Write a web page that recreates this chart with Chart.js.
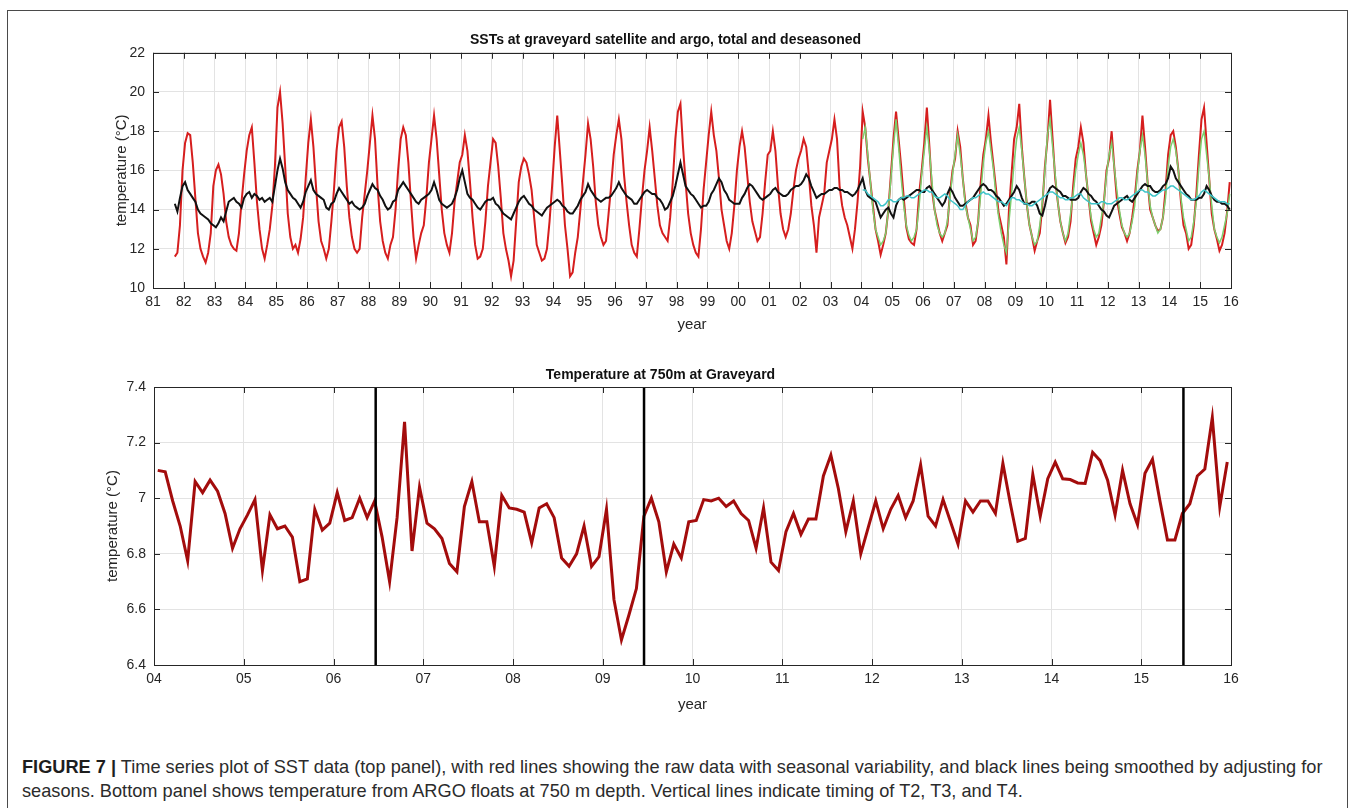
<!DOCTYPE html>
<html>
<head>
<meta charset="utf-8">
<script src="https://cdn.jsdelivr.net/npm/chart.js@4.4.1/dist/chart.umd.min.js"></script>
<style>
  body { margin: 0; background: #fff; font-family: "Liberation Sans", Arial, sans-serif; }
  #page { position: relative; width: 1355px; height: 808px; overflow: hidden; background: #fff; }
  #frame { position: absolute; left: 7px; top: 10px; width: 1339px; height: 830px; border: 1.5px solid #4a4a4a; }
  canvas { position: absolute; }
  #sst { left: 100px; top: 24px; }
  #argo { left: 90px; top: 350px; }
  #caption { position: absolute; left: 22px; top: 755px; font-size: 18.2px; line-height: 24px; color: #2b2b2b; white-space: nowrap; }
  #caption b { font-weight: bold; color: #1e1e1e; }
</style>
</head>
<body>
<div id="page">
  <div id="frame"></div>
  <canvas id="sst" width="1160" height="320"></canvas>
  <canvas id="argo" width="1170" height="380"></canvas>
  <div id="caption"><b>FIGURE 7 |</b> Time series plot of SST data (top panel), with red lines showing the raw data with seasonal variability, and black lines being smoothed by adjusting for<br>seasons. Bottom panel shows temperature from ARGO floats at 750 m depth. Vertical lines indicate timing of T2, T3, and T4.</div>
</div>
<script>
// satellite SST, monthly, Sep 1981 - Dec 2015 (one row per year)
const sstStart = 1981 + 8 / 12;
const sstRaw = [
  11.6, 11.8, 13.2, 16.0,
  17.4, 17.9, 17.8, 16.4, 14.6, 12.8, 12.0, 11.6, 11.3, 11.8, 12.8, 15.2,
  16.0, 16.3, 15.8, 14.8, 13.4, 12.6, 12.2, 12.0, 11.9, 12.8, 14.4, 15.8,
  17.0, 17.8, 18.2, 16.4, 14.4, 13.0, 12.0, 11.5, 12.2, 13.0, 14.2, 16.2,
  19.2, 20.0, 18.4, 16.2, 13.8, 12.6, 12.0, 12.2, 11.8, 12.5, 13.6, 15.6,
  17.4, 18.6, 17.2, 15.2, 13.4, 12.4, 12.0, 11.5, 12.0, 13.4, 15.0, 17.0,
  18.2, 18.5, 17.2, 15.2, 13.6, 12.6, 12.0, 11.8, 12.0, 13.6, 14.8, 16.0,
  17.4, 18.8, 17.6, 15.2, 13.4, 12.4, 11.8, 11.5, 12.2, 12.6, 14.0, 16.0,
  17.6, 18.2, 17.8, 16.4, 14.4, 12.6, 11.5, 12.2, 12.8, 13.2, 14.6, 16.4,
  17.6, 18.8, 17.6, 15.8, 14.0, 12.8, 12.2, 11.8, 12.8, 14.4, 15.4, 16.4,
  16.8, 17.8, 17.0, 15.4, 13.6, 12.2, 11.5, 11.6, 12.0, 13.4, 15.2, 16.4,
  17.6, 17.4, 16.2, 14.6, 12.8, 12.0, 11.4, 10.6, 11.4, 13.4, 15.4, 16.2,
  16.6, 16.4, 15.8, 15.0, 13.6, 12.2, 11.8, 11.4, 11.5, 12.0, 13.4, 15.2,
  17.2, 18.8, 17.0, 15.2, 13.2, 12.0, 10.6, 10.8, 11.8, 12.6, 14.0, 15.4,
  16.8, 18.4, 17.6, 16.2, 14.4, 13.2, 12.6, 12.2, 12.4, 13.8, 15.2, 16.8,
  17.8, 18.6, 17.6, 15.8, 14.4, 13.2, 12.2, 11.8, 11.6, 13.0, 14.6, 16.0,
  17.0, 18.2, 17.0, 15.6, 14.2, 13.2, 12.8, 12.6, 12.4, 13.6, 15.4, 17.6,
  19.0, 19.4, 17.2, 15.4, 13.8, 12.8, 12.2, 11.8, 11.6, 13.0, 15.0, 16.4,
  17.8, 19.0, 17.8, 17.0, 15.6, 14.0, 13.2, 12.4, 12.0, 12.8, 14.2, 16.0,
  17.2, 18.0, 17.2, 15.8, 14.4, 13.4, 12.9, 12.4, 12.6, 13.8, 15.4, 16.8,
  17.0, 18.0, 17.0, 15.2, 13.8, 13.0, 12.6, 13.0, 13.8, 15.0, 16.0, 16.6,
  17.0, 17.6, 17.2, 15.8, 14.2, 13.2, 11.8, 13.6, 14.2, 14.8, 16.4, 17.0,
  17.6, 18.6, 17.6, 15.2, 14.2, 13.6, 13.2, 12.6, 12.0, 13.0, 14.4, 16.2,
  19.0, 18.2, 16.6, 15.4, 14.2, 13.0, 12.4, 11.7, 12.2, 12.8, 14.0, 15.8,
  17.6, 19.0, 17.6, 16.2, 14.6, 13.1, 12.5, 12.3, 12.2, 13.0, 14.8, 16.0,
  17.4, 19.2, 17.2, 15.0, 14.0, 13.4, 12.8, 12.4, 12.8, 13.2, 14.8, 16.0,
  16.6, 18.0, 17.2, 15.6, 14.4, 13.6, 13.2, 12.2, 12.4, 13.4, 15.4, 16.8,
  17.6, 18.8, 17.4, 16.2, 15.0, 13.8, 13.2, 12.6, 11.2, 14.0, 15.8, 17.6,
  18.2, 19.4, 17.2, 15.6, 14.2, 13.2, 12.6, 11.9, 12.4, 12.8, 14.2, 16.2,
  17.6, 19.6, 17.6, 15.6, 14.4, 13.4, 12.8, 12.3, 12.6, 13.4, 15.2, 16.6,
  17.2, 18.2, 17.4, 15.8, 14.6, 13.4, 12.8, 12.2, 12.6, 13.2, 14.4, 16.0,
  16.6, 18.0, 16.2, 14.6, 13.8, 13.1, 12.8, 12.4, 12.8, 13.6, 14.6, 16.0,
  17.0, 18.8, 17.2, 15.4, 14.0, 13.6, 13.2, 12.9, 13.0, 13.6, 15.0, 16.8,
  17.8, 18.0, 17.2, 16.0, 14.4, 13.2, 12.8, 12.0, 12.2, 13.2, 14.8, 16.8,
  18.6, 19.2, 17.4, 15.6, 13.8, 13.0, 12.5, 11.9, 12.2, 12.8, 13.9, 15.4
];
const sstDeseason = [
  14.3, 13.9, 14.6, 15.2,
  15.4, 15.0, 14.8, 14.6, 14.4, 14.0, 13.8, 13.7, 13.6, 13.5, 13.3, 13.2,
  13.1, 13.3, 13.6, 13.4, 13.9, 14.4, 14.5, 14.6, 14.4, 14.3, 14.1, 14.6,
  14.8, 14.9, 14.6, 14.8, 14.7, 14.5, 14.6, 14.4, 14.5, 14.6, 14.4, 15.2,
  16.0, 16.6, 16.1, 15.4, 15.0, 14.8, 14.6, 14.5, 14.3, 14.1, 14.4, 14.9,
  15.2, 15.5, 15.0, 14.8, 14.7, 14.6, 14.5, 14.1, 14.0, 14.3, 14.4, 14.8,
  15.1, 14.9, 14.7, 14.5, 14.3, 14.4, 14.2, 14.1, 14.0, 14.1, 14.3, 14.7,
  15.0, 15.3, 15.1, 15.0, 14.7, 14.5, 14.2, 14.0, 14.1, 14.4, 14.5, 15.0,
  15.2, 15.4, 15.2, 15.0, 14.8, 14.6, 14.4, 14.3, 14.5, 14.6, 14.7, 14.8,
  15.0, 15.4, 15.0, 14.5, 14.3, 14.2, 14.1, 14.2, 14.3, 14.6, 15.0, 15.6,
  16.0, 15.4, 14.8, 14.6, 14.5, 14.3, 14.1, 14.0, 14.2, 14.4, 14.5, 14.5,
  14.6, 14.3, 14.2, 14.0, 13.8, 13.7, 13.6, 13.5, 13.8, 14.1, 14.4, 14.6,
  14.7, 14.5, 14.3, 14.2, 14.0, 13.9, 13.8, 13.7, 13.9, 14.1, 14.2, 14.3,
  14.4, 14.5, 14.4, 14.2, 14.1, 13.9, 13.8, 13.8, 14.0, 14.2, 14.5, 14.7,
  14.9, 15.3, 15.0, 14.8, 14.6, 14.5, 14.4, 14.5, 14.6, 14.6, 14.7, 14.9,
  15.1, 15.4, 15.1, 14.9, 14.7, 14.6, 14.5, 14.3, 14.3, 14.5, 14.7, 14.9,
  15.0, 14.9, 14.8, 14.8, 14.6, 14.5, 14.3, 14.0, 14.1, 14.4, 14.7, 15.2,
  15.8, 16.4, 15.8, 15.2, 15.0, 14.8, 14.7, 14.5, 14.3, 14.1, 14.2, 14.2,
  14.4, 14.8, 15.0, 15.3, 15.6, 15.4, 15.0, 14.8, 14.5, 14.4, 14.3, 14.3,
  14.3, 14.6, 14.8, 15.1, 15.3, 15.2, 15.0, 14.8, 14.6, 14.5, 14.6, 14.7,
  14.8, 15.0, 15.1, 14.9, 14.8, 14.7, 14.7, 14.8, 15.0, 15.1, 15.2, 15.2,
  15.3, 15.5, 15.8, 15.6, 15.2, 14.9, 14.6, 14.7, 14.8, 14.8, 14.9, 15.0,
  15.0, 15.1, 15.1, 15.0, 15.0, 14.9, 14.9, 14.8, 14.7, 14.8, 15.0, 15.3,
  15.6, 15.0, 14.7, 14.6, 14.5, 14.4, 14.0, 13.6, 13.8, 14.0, 14.1, 13.8,
  13.6, 14.2, 14.5, 14.6, 14.5, 14.6, 14.7, 14.8, 14.9, 15.0, 15.0, 14.9,
  14.9, 15.1, 15.2, 15.0, 14.8, 14.6, 14.4, 14.2, 14.4, 14.8, 15.1, 14.9,
  14.6, 14.4, 14.2, 14.2, 14.3, 14.4, 14.5, 14.6, 14.8, 15.0, 15.2, 15.3,
  15.2, 15.0, 15.0, 14.9, 14.7, 14.6, 14.4, 14.2, 14.3, 14.5, 14.7, 14.9,
  15.2, 15.0, 14.6, 14.3, 14.3, 14.3, 14.4, 14.4, 14.2, 13.8, 13.7, 14.2,
  14.8, 15.1, 15.2, 15.1, 15.0, 14.9, 14.7, 14.7, 14.6, 14.5, 14.5, 14.5,
  14.6, 14.9, 15.1, 15.0, 14.8, 14.7, 14.5, 14.4, 14.2, 14.0, 13.9, 13.7,
  13.6, 13.9, 14.2, 14.3, 14.4, 14.5, 14.6, 14.7, 14.5, 14.4, 14.6, 14.8,
  15.0, 15.2, 15.3, 15.2, 15.2, 15.0, 14.9, 14.9, 15.0, 15.2, 15.3, 15.6,
  16.2, 16.0, 15.6, 15.4, 15.2, 15.0, 14.8, 14.7, 14.5, 14.5, 14.5, 14.6,
  14.6, 14.8, 15.2, 15.0, 14.7, 14.5, 14.4, 14.4, 14.3, 14.3, 14.2, 14.0
];

// argo near-surface, monthly, Jan 2004 - Dec 2015
const argoStart = 2004;
const argoTotal = [
  17.6, 18.2, 16.8, 15.4, 14.0, 13.0, 12.6, 12.2, 12.4, 12.8, 14.0, 15.6,
  17.2, 18.6, 17.2, 15.6, 14.2, 13.2, 12.7, 12.4, 12.6, 13.0, 14.2, 15.8,
  17.0, 18.2, 17.0, 15.4, 14.0, 13.2, 12.8, 12.6, 12.8, 13.4, 14.6, 15.8,
  16.8, 17.8, 16.8, 15.6, 14.2, 13.6, 13.0, 12.4, 12.6, 13.4, 14.8, 16.4,
  17.4, 18.0, 17.0, 16.0, 14.6, 13.6, 12.8, 12.2, 11.8, 13.4, 14.8, 16.4,
  17.6, 18.2, 17.0, 15.6, 14.2, 13.2, 12.6, 12.2, 12.4, 13.2, 14.4, 16.0,
  17.8, 18.6, 17.2, 15.8, 14.4, 13.4, 12.8, 12.4, 12.8, 13.8, 14.8, 16.0,
  16.8, 17.4, 16.8, 15.8, 14.6, 13.6, 13.0, 12.6, 12.8, 13.6, 14.4, 15.8,
  16.8, 17.4, 16.2, 15.0, 14.0, 13.2, 12.8, 12.6, 12.8, 13.4, 14.2, 15.8,
  17.0, 17.8, 16.8, 15.4, 14.2, 13.6, 13.2, 12.8, 13.0, 13.6, 14.6, 16.2,
  17.2, 17.6, 17.0, 16.0, 14.6, 13.6, 13.0, 12.4, 12.6, 13.4, 14.4, 16.2,
  17.6, 18.0, 16.8, 15.6, 14.2, 13.0, 12.6, 12.3, 12.6, 13.2, 13.8, 14.8
];
const argoDeseason = [
  15.0, 15.0, 14.8, 14.7, 14.6, 14.5, 14.4, 14.2, 14.2, 14.3, 14.5, 14.5,
  14.4, 14.4, 14.5, 14.6, 14.6, 14.7, 14.7, 14.6, 14.6, 14.7, 14.8, 14.9,
  15.0, 15.0, 14.9, 14.9, 14.7, 14.6, 14.6, 14.7, 14.8, 14.7, 14.5, 14.4,
  14.3, 14.2, 14.0, 14.0, 14.2, 14.4, 14.5, 14.6, 14.6, 14.7, 14.8, 14.9,
  14.8, 14.8, 14.7, 14.6, 14.5, 14.4, 14.4, 14.3, 14.2, 14.4, 14.6, 14.6,
  14.5, 14.5, 14.4, 14.3, 14.3, 14.2, 14.2, 14.3, 14.4, 14.5, 14.6, 14.7,
  14.8, 14.9, 14.9, 14.8, 14.7, 14.6, 14.6, 14.5, 14.5, 14.6, 14.6, 14.7,
  14.8, 14.8, 14.6, 14.5, 14.4, 14.3, 14.3, 14.3, 14.3, 14.4, 14.4, 14.3,
  14.3, 14.3, 14.4, 14.5, 14.6, 14.6, 14.5, 14.5, 14.6, 14.7, 14.8, 14.9,
  15.0, 15.0, 14.9, 14.9, 14.8, 14.7, 14.7, 14.8, 14.9, 15.0, 15.0, 15.1,
  15.2, 15.2, 15.1, 15.0, 14.9, 14.8, 14.7, 14.6, 14.5, 14.5, 14.6, 14.7,
  14.9, 15.0, 14.9, 14.8, 14.7, 14.6, 14.5, 14.4, 14.4, 14.4, 14.3, 14.3
];

// argo temperature at 750 m, monthly, Jan 2004 - Dec 2015
const t750 = [
  7.10, 7.095, 6.99, 6.90, 6.775, 7.06, 7.02, 7.065, 7.025, 6.945, 6.82, 6.89,
  6.94, 6.995, 6.74, 6.94, 6.89, 6.90, 6.86, 6.70, 6.71, 6.96, 6.885, 6.91,
  7.02, 6.92, 6.93, 7.00, 6.93, 6.99, 6.86, 6.70, 6.93, 7.275, 6.81, 7.04,
  6.91, 6.89, 6.855, 6.765, 6.735, 6.97, 7.06, 6.915, 6.915, 6.755, 7.01, 6.965,
  6.96, 6.95, 6.84, 6.965, 6.98, 6.93, 6.785, 6.755, 6.80, 6.90, 6.755, 6.79,
  6.96, 6.635, 6.49, 6.58, 6.675, 6.935, 7.00, 6.915, 6.735, 6.835, 6.785, 6.915,
  6.92, 6.995, 6.99, 7.00, 6.97, 6.99, 6.945, 6.92, 6.82, 6.965, 6.77, 6.74,
  6.88, 6.945, 6.87, 6.925, 6.925, 7.08, 7.155, 7.035, 6.88, 6.99, 6.80, 6.895,
  6.99, 6.89, 6.96, 7.01, 6.93, 6.99, 7.12, 6.935, 6.90, 6.995, 6.915, 6.835,
  6.99, 6.95, 6.99, 6.99, 6.945, 7.125, 6.98, 6.845, 6.855, 7.085, 6.935, 7.07,
  7.13, 7.07, 7.067, 7.055, 7.053, 7.165, 7.135, 7.065, 6.94, 7.10, 6.98, 6.905,
  7.09, 7.14, 6.99, 6.85, 6.85, 6.945, 6.98, 7.08, 7.105, 7.29, 6.97, 7.13
];
const eventYears = [2006.47, 2009.46, 2015.47];

const sstTicks = { min: 1981, max: 2016, yMin: 10, yMax: 22, yStep: 2 };
const argoTicks = { min: 2004, max: 2016, yMin: 6.4, yMax: 7.4, yStep: 0.2 };

const monthly = (start, values) => values.map((v, i) => ({ x: start + (i + 0.5) / 12, y: v }));
const yearLabel = v => String(Math.round(v) % 100).padStart(2, "0");

const axisInk = "#262626";
const gridInk = "#e3e3e3";

// matlab-style box with inward tick marks
const boxFrame = {
  id: "boxFrame",
  afterDatasetsDraw(chart) {
    const { ctx, chartArea: a, scales: { x, y } } = chart;
    const len = 6;
    ctx.save();
    ctx.strokeStyle = axisInk;
    ctx.lineWidth = 1;
    ctx.beginPath();
    x.ticks.forEach(t => {
      const px = Math.round(x.getPixelForValue(t.value)) + 0.5;
      ctx.moveTo(px, a.bottom); ctx.lineTo(px, a.bottom - len);
      ctx.moveTo(px, a.top); ctx.lineTo(px, a.top + len);
    });
    y.ticks.forEach(t => {
      const py = Math.round(y.getPixelForValue(t.value)) + 0.5;
      ctx.moveTo(a.left, py); ctx.lineTo(a.left + len, py);
      ctx.moveTo(a.right, py); ctx.lineTo(a.right - len, py);
    });
    ctx.stroke();
    ctx.strokeRect(Math.round(a.left) + 0.5, Math.round(a.top) + 0.5, Math.round(a.width), Math.round(a.height));
    ctx.restore();
  }
};

function axes(t, yWidth, yTitlePad, xHeight, xTitlePad, yFmt) {
  return {
    x: {
      type: "linear", min: t.min, max: t.max,
      afterFit: s => { s.height = xHeight; },
      grid: { color: gridInk, drawTicks: false },
      border: { display: false },
      ticks: { stepSize: 1, autoSkip: false, maxRotation: 0, padding: 6, color: axisInk,
               font: { size: 14 }, callback: yearLabel },
      title: { display: true, text: "year", color: axisInk, font: { size: 15 },
               padding: { top: 0, bottom: xTitlePad } }
    },
    y: {
      min: t.yMin, max: t.yMax,
      afterFit: s => { s.width = yWidth; },
      grid: { color: gridInk, drawTicks: false },
      border: { display: false },
      ticks: { stepSize: t.yStep, padding: 8, color: axisInk, font: { size: 14 }, callback: yFmt },
      title: { display: true, text: "temperature (°C)", color: axisInk, font: { size: 15 },
               padding: { top: yTitlePad, bottom: 0 } }
    }
  };
}

Chart.defaults.font.family = '"Liberation Sans", Arial, sans-serif';

new Chart(document.getElementById("sst"), {
  type: "line",
  data: {
    datasets: [
      { data: monthly(sstStart, sstRaw), borderColor: "#d61e1e", borderWidth: 2, order: 4 },
      { data: monthly(argoStart, argoTotal), borderColor: "#7ccf6e", borderWidth: 1.5, order: 3 },
      { data: monthly(sstStart, sstDeseason), borderColor: "#111111", borderWidth: 2, order: 2 },
      { data: monthly(argoStart, argoDeseason), borderColor: "#3ec4c9", borderWidth: 1.5, order: 1 }
    ]
  },
  options: {
    responsive: false, animation: false, devicePixelRatio: 1,
    layout: { padding: { left: 0, right: 29, top: 0, bottom: 0 } },
    elements: { point: { radius: 0 }, line: { tension: 0 } },
    plugins: {
      legend: { display: false }, tooltip: { enabled: false },
      title: { display: true, text: "SSTs at graveyard satellite and argo, total and deseasoned",
               color: "#111", font: { size: 14, weight: "bold" }, padding: { top: 8, bottom: 4 } }
    },
    scales: axes(sstTicks, 53, 13, 56, 10, v => String(v))
  },
  plugins: [boxFrame]
});

const eventSets = eventYears.map(e => ({
  data: [{ x: e, y: argoTicks.yMin }, { x: e, y: argoTicks.yMax }],
  borderColor: "#000", borderWidth: 2.5, order: 1
}));

new Chart(document.getElementById("argo"), {
  type: "line",
  data: {
    datasets: [
      { data: monthly(argoStart, t750), borderColor: "#a30c0c", borderWidth: 3, order: 2 },
      ...eventSets
    ]
  },
  options: {
    responsive: false, animation: false, devicePixelRatio: 1,
    layout: { padding: { left: 0, right: 29, top: 0, bottom: 0 } },
    elements: { point: { radius: 0 }, line: { tension: 0 } },
    plugins: {
      legend: { display: false }, tooltip: { enabled: false },
      title: { display: true, text: "Temperature at 750m at Graveyard",
               color: "#111", font: { size: 14, weight: "bold" }, padding: { top: 16.6, bottom: 3.6 } }
    },
    scales: axes(argoTicks, 64, 14, 65, 16, v => String(Math.round(v * 10) / 10))
  },
  plugins: [boxFrame]
});
</script>
</body>
</html>
